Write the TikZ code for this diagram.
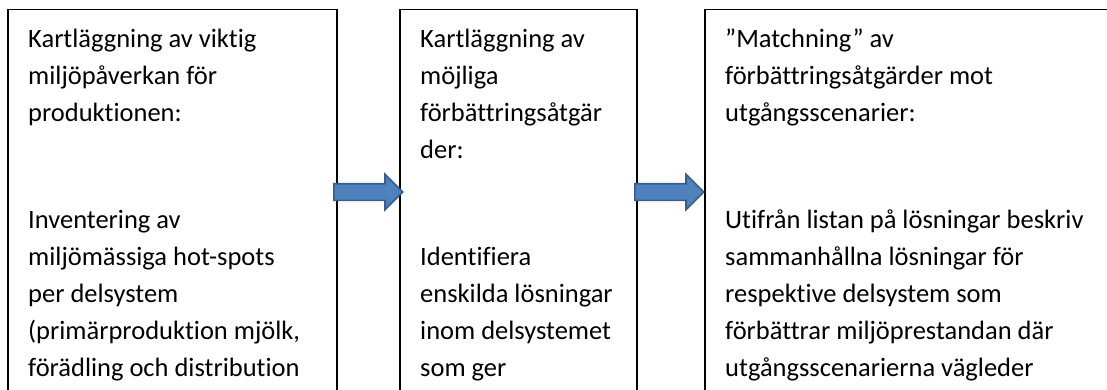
\documentclass[tikz,border=0pt]{standalone}
\usepackage{fontspec}
\setmainfont{Carlito}[Ligatures=CommonOff]
\usetikzlibrary{positioning, shapes.arrows, calc}

\begin{document}
\begin{tikzpicture}[x=1pt, y=1pt, node distance=63pt,
    frame/.style={draw, line width=1.4pt, minimum height=430pt, outer sep=0pt, inner sep=0pt, anchor=north west},
    boxtext/.style={anchor=north west, inner sep=0pt, align=left, font=\fontsize{26.5}{37}\selectfont},
    blockarrow/.style={single arrow, anchor=tail, draw={rgb,255:red,56;green,93;blue,138}, fill={rgb,255:red,79;green,129;blue,189},
        line width=1.6pt, minimum height=69pt, inner xsep=0pt, inner ysep=7.5pt, single arrow head extend=9.5pt}]
    \useasboundingbox (0,0) rectangle (1107,389);
    \clip (0,0) rectangle (1107,389);
    \node[frame, minimum width=329pt] (mapA) at (8,379.5) {};
    \node[frame, minimum width=237pt] (mapB) [right=of mapA.north east, anchor=north west] {};
    \node[frame, minimum width=420pt] (mapC) [right=68pt of mapB.north east, anchor=north west] {};
    \node[boxtext] (txtA) at ([shift={(20pt,-19pt)}]mapA.north west)
        {Kartläggning av viktig\\ miljöpåverkan för\\ produktionen:\\[70pt]
         Inventering av\\ miljömässiga hot-spots\\ per delsystem\\ (primärproduktion mjölk,\\ förädling och distribution};
    \node[boxtext] (txtB) at ([shift={(20pt,-19pt)}]mapB.north west)
        {Kartläggning av\\ möjliga\\ förbättringsåtgär\\ der:\\[70pt]
         Identifiera\\ enskilda lösningar\\ inom delsystemet\\ som ger};
    \node[boxtext] (txtC) at ([shift={(20pt,-19pt)}]mapC.north west)
        {”Matchning” av\\ förbättringsåtgärder mot\\ utgångsscenarier:\\[70pt]
         Utifrån listan på lösningar beskriv\\ sammanhållna lösningar för\\ respektive delsystem som\\ förbättrar miljöprestandan där\\ utgångsscenarierna vägleder};
    \node[blockarrow] (arrAB) at ($(mapA.north east)+(-4,-182.5)$) {};
    \node[blockarrow] (arrBC) at ($(mapB.north east)+(-3,-182.5)$) {};
\end{tikzpicture}
\end{document}
